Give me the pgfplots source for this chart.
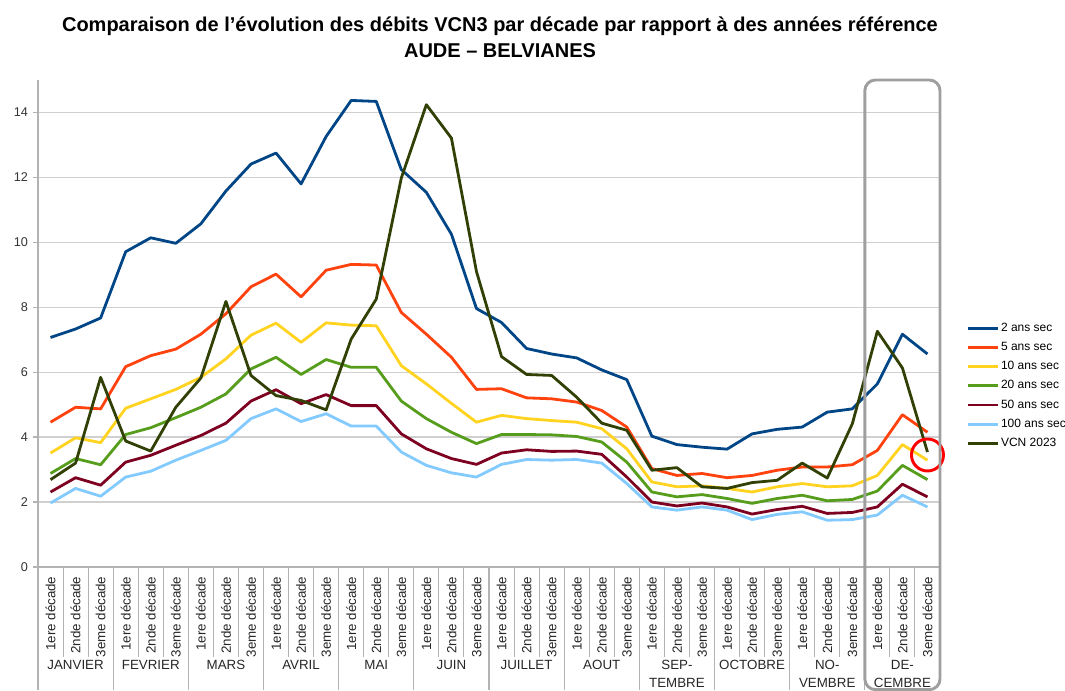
\documentclass[border=0pt]{standalone}
\usepackage{fontspec}
\setmainfont{Liberation Sans}
\usepackage{pgfplots}
\pgfplotsset{compat=1.18}
\usepackage{pgfplotstable}

% LibreOffice default chart palette
\definecolor{cA}{HTML}{004586}
\definecolor{cB}{HTML}{FF420E}
\definecolor{cC}{HTML}{FFD320}
\definecolor{cD}{HTML}{579D1C}
\definecolor{cE}{HTML}{7E0021}
\definecolor{cF}{HTML}{83CAFF}
\definecolor{cG}{HTML}{314004}
\definecolor{gridc}{HTML}{D0D0D0}
\definecolor{axc}{HTML}{B3B3B3}

\pgfplotstableread{
x  s2    s5   s10  s20  s50  s100 vcn
0  7.07  4.46 3.51 2.88 2.31 1.97 2.69
1  7.33  4.92 3.98 3.34 2.75 2.42 3.20
2  7.67  4.87 3.83 3.15 2.52 2.18 5.84
3  9.71  6.17 4.89 4.08 3.23 2.77 3.88
4  10.14 6.51 5.18 4.29 3.44 2.95 3.57
5  9.97  6.71 5.47 4.60 3.75 3.29 4.92
6  10.57 7.17 5.84 4.92 4.05 3.59 5.82
7  11.58 7.80 6.41 5.33 4.43 3.90 8.18
8  12.41 8.63 7.14 6.10 5.11 4.57 5.90
9  12.75 9.02 7.51 6.46 5.46 4.87 5.28
10 11.80 8.32 6.92 5.93 5.03 4.48 5.13
11 13.26 9.14 7.52 6.39 5.31 4.72 4.84
12 14.37 9.32 7.45 6.15 4.97 4.34 7.02
13 14.34 9.30 7.43 6.15 4.97 4.34 8.25
14 12.24 7.84 6.20 5.11 4.10 3.54 11.98
15 11.54 7.17 5.64 4.57 3.64 3.13 14.24
16 10.25 6.46 5.04 4.15 3.34 2.90 13.21
17 7.96  5.47 4.46 3.80 3.16 2.77 9.10
18 7.53  5.49 4.67 4.08 3.51 3.16 6.48
19 6.73  5.21 4.57 4.08 3.61 3.31 5.93
20 6.56  5.18 4.51 4.07 3.56 3.29 5.90
21 6.44  5.08 4.46 4.02 3.57 3.31 5.23
22 6.07  4.82 4.26 3.85 3.47 3.20 4.43
23 5.77  4.31 3.64 3.23 2.77 2.57 4.21
24 4.03  3.03 2.62 2.31 2.00 1.85 2.98
25 3.77  2.82 2.47 2.16 1.88 1.75 3.06
26 3.69  2.88 2.50 2.23 1.97 1.85 2.47
27 3.63  2.75 2.42 2.11 1.85 1.75 2.42
28 4.10  2.82 2.31 1.96 1.63 1.46 2.60
29 4.24  2.98 2.47 2.11 1.77 1.62 2.67
30 4.31  3.08 2.57 2.21 1.87 1.70 3.20
31 4.77  3.08 2.47 2.04 1.65 1.44 2.74
32 4.87  3.15 2.50 2.08 1.68 1.46 4.41
33 5.64  3.59 2.82 2.34 1.85 1.60 7.26
34 7.17  4.69 3.77 3.13 2.55 2.21 6.13
35 6.56  4.15 3.29 2.69 2.16 1.85 3.54
}\debits

\begin{document}
\begin{tikzpicture}
\useasboundingbox (-28.5pt,-93pt) rectangle (770.25pt,425.25pt);

% title
\node[anchor=base, font=\fontsize{15}{17}\selectfont\bfseries] at (346.5pt,401.25pt)
  {Comparaison de l’évolution des débits VCN3 par décade par rapport à des années référence};
\node[anchor=base, font=\fontsize{15}{17}\selectfont\bfseries] at (346.5pt,381.75pt)
  {AUDE – BELVIANES};

\begin{axis}[
    at={(0pt,0pt)}, anchor=south west,
    scale only axis,
    width=676.5pt, height=365.25pt,
    xmin=-0.5, xmax=35.5,
    ymin=0, ymax=15,
    axis x line*=bottom, axis y line*=left,
    axis line style={axc, line width=1pt, -},
    ytick={0,2,...,14},
    ymajorgrids=true,
    grid style={gridc, line width=1pt},
    ytick pos=left, xtick pos=bottom,
    tick align=outside,
    tick style={axc, line width=1pt},
    major tick length=4pt,
    xtick={0,...,35},
    x tick style={draw=none},
    xticklabels={1ere décade,2nde décade,3eme décade,1ere décade,2nde décade,3eme décade,
                 1ere décade,2nde décade,3eme décade,1ere décade,2nde décade,3eme décade,
                 1ere décade,2nde décade,3eme décade,1ere décade,2nde décade,3eme décade,
                 1ere décade,2nde décade,3eme décade,1ere décade,2nde décade,3eme décade,
                 1ere décade,2nde décade,3eme décade,1ere décade,2nde décade,3eme décade,
                 1ere décade,2nde décade,3eme décade,1ere décade,2nde décade,3eme décade},
    xticklabel style={rotate=90, anchor=east, inner sep=0pt, xshift=-3pt,
                      font=\fontsize{10}{12}\selectfont, text=black!85},
    yticklabel style={font=\fontsize{9.5}{11}\selectfont, text=black!80},
    /pgf/number format/assume math mode=true,
    clip=false,
    every axis plot/.append style={line width=2.1pt, line join=round},
    legend style={at={(1,0.372)}, anchor=west, xshift=17pt, draw=none, fill=none,
                  font=\fontsize{9}{10}\selectfont, row sep=3.6pt,
                  nodes={inner sep=1.5pt}},
    legend cell align=left,
    legend image code/.code={\draw[#1] (0pt,0pt) -- (22pt,0pt);},
]
\addplot[cA] table[x=x, y=s2]   {\debits};
\addplot[cB] table[x=x, y=s5]   {\debits};
\addplot[cC] table[x=x, y=s10]  {\debits};
\addplot[cD] table[x=x, y=s20]  {\debits};
\addplot[cE] table[x=x, y=s50]  {\debits};
\addplot[cF] table[x=x, y=s100] {\debits};
\addplot[cG] table[x=x, y=vcn]  {\debits};
\legend{2 ans sec, 5 ans sec, 10 ans sec, 20 ans sec, 50 ans sec, 100 ans sec, VCN 2023}
\draw[red, line width=2.2pt] (axis cs:35,3.45) circle[radius=12pt];
\end{axis}

% category and month separators below the axis
\foreach \i in {1,...,35}
  \draw[axc, line width=0.8pt] ({\i*18.7917pt},0pt) -- ++(0pt,-67.5pt);
\foreach \i in {0,3,...,33}
  \draw[axc, line width=0.8pt] ({\i*18.7917pt},0pt) -- ++(0pt,-92pt);

% month names
\foreach \m [count=\k from 0] in {JANVIER,FEVRIER,MARS,AVRIL,MAI,JUIN,JUILLET,AOUT,
    {SEP-\\TEMBRE},OCTOBRE,{NO-\\VEMBRE},{DE-\\CEMBRE}}
  \node[anchor=north, align=center, inner sep=0pt, font=\fontsize{10}{13.5}\selectfont, text=black!85]
    at ({(3*\k+1.5)*18.7917pt},-70pt) {\m};

% highlight box for December
\draw[gray!75, line width=2.2pt, rounded corners=8pt]
  ({33*18.7917pt},365.25pt) rectangle ({36*18.7917pt},-92pt);
\end{tikzpicture}
\end{document}
